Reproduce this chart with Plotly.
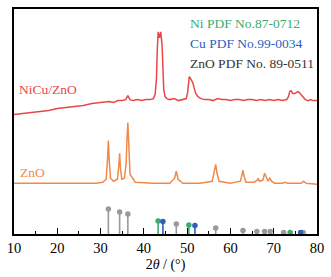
import plotly.graph_objects as go

# NiCu/ZnO pattern (2theta, intensity a.u.)
nicu_x = [10, 12, 14, 16, 18, 20, 22, 24, 26, 28, 30, 31, 32, 33, 34, 35, 35.8, 36.3, 36.8, 37.5, 38.5, 39.5, 40.5, 41.5,
          42.2, 42.6, 42.9, 43.1, 43.3, 43.6, 43.9, 44.2, 44.4, 44.6, 44.9, 45.3, 46, 47, 48, 49, 49.8,
          50.1, 50.3, 50.5, 50.8, 51.1, 51.3, 51.6, 52.0, 52.5, 53.2, 54, 55, 56, 57, 58, 59, 60, 61, 62, 63, 64,
          65, 66, 67, 68, 69, 70, 71, 72, 73, 73.4, 73.7, 74.0, 74.4, 74.8, 75.2, 75.6, 75.9, 76.3, 76.8, 77.3,
          78, 78.5, 79, 79.5, 80]
nicu_y = [120, 121, 122, 123, 124, 126, 127, 128, 129, 131, 132, 132, 133, 132, 134, 134, 135, 139, 135, 134, 135, 134, 135, 135,
          136, 140, 155, 185, 203, 197, 203, 190, 165, 145, 138, 136, 135, 136, 134, 135, 136,
          142, 152, 158, 156, 154, 152, 147, 141, 138, 136, 135, 135, 134, 136, 135, 135, 134, 135, 135, 134, 135,
          135, 134, 135, 134, 135, 134, 135, 134, 135, 138, 143, 144, 141, 141, 142, 143, 142, 140, 137, 135,
          134, 135, 134, 134, 134]

# ZnO pattern
zno_x = [10, 15, 20, 25, 29, 30.5, 31.3, 31.6, 31.8, 32.0, 32.3, 33.0, 33.9, 34.2, 34.4, 34.6, 34.9, 35.5, 35.9, 36.1,
         36.3, 36.5, 36.8, 38, 42, 46, 47.1, 47.5, 47.9, 49, 53, 55.8, 56.3, 56.6, 56.9, 57.4, 60, 62.3, 62.7, 62.9, 63.1, 63.6,
         65.5, 66.2, 66.4, 66.7, 67.5, 67.9, 68.3, 68.7, 69.1, 69.5, 70.2, 72.0, 72.6, 73.2, 76.3, 76.9, 77.5, 80]
zno_y = [51, 51, 51, 51, 51, 52, 55, 75, 94, 74, 56, 53, 55, 68, 81, 66, 55, 56, 70, 95,
         112, 92, 60, 52, 51, 51, 56, 63, 55, 51, 51, 53, 62, 70, 61, 53, 51, 53, 60, 64, 59, 52,
         52, 54, 56, 53, 54, 61, 57, 53, 56, 53, 51, 51, 52, 51, 51, 53, 51, 50]

# Reference sticks
zno_ref_x = [31.8, 34.4, 36.3, 47.5, 56.6, 62.9, 66.1, 67.9, 69.2, 72.3, 76.8]
zno_ref_h = [25, 22, 20, 10, 6, 3.5, 2.5, 2.5, 2.5, 1.5, 1.5]
ni_ref_x = [43.3, 50.4, 73.8]
ni_ref_h = [13, 9, 1.5]
cu_ref_x = [44.4, 51.8, 76.2]
cu_ref_h = [12.5, 8.5, 1.5]

RED = "#e8474a"
ORANGE = "#f08a4b"
GREEN = "#3daa6e"
BLUE = "#2d5fbd"
GREY = "#9a9a9a"
SERIF = "Liberation Serif, Times New Roman, serif"

fig = go.Figure()
fig.add_trace(go.Scatter(x=nicu_x, y=nicu_y, mode="lines", line=dict(color=RED, width=1.5)))
fig.add_trace(go.Scatter(x=zno_x, y=zno_y, mode="lines", line=dict(color=ORANGE, width=1.5)))

def sticks(xs, hs, color):
    lx, ly = [], []
    for x, h in zip(xs, hs):
        lx += [x, x, None]
        ly += [0, h, None]
    fig.add_trace(go.Scatter(x=lx, y=ly, mode="lines", line=dict(color=color, width=1.6)))
    fig.add_trace(go.Scatter(x=xs, y=hs, mode="markers", marker=dict(color=color, size=5.5)))

sticks(zno_ref_x, zno_ref_h, GREY)
sticks(ni_ref_x, ni_ref_h, GREEN)
sticks(cu_ref_x, cu_ref_h, BLUE)

ann = [
    ("Ni PDF No.87-0712", GREEN, 211),
    ("Cu PDF No.99-0034", BLUE, 191),
    ("ZnO PDF No. 89-0511", "#333333", 171),
]
for t, c, y in ann:
    fig.add_annotation(x=50.3, y=y, text=t, showarrow=False, xanchor="left",
                       font=dict(family=SERIF, size=13.5, color=c))
fig.add_annotation(x=10.7, y=145, text="NiCu/ZnO", showarrow=False, xanchor="left",
                   font=dict(family=SERIF, size=13.5, color=RED))
fig.add_annotation(x=10.9, y=62, text="ZnO", showarrow=False, xanchor="left",
                   font=dict(family=SERIF, size=13.5, color=ORANGE))

fig.update_layout(
    width=331, height=277, showlegend=False,
    margin=dict(l=10, r=11, t=7, b=43),
    plot_bgcolor="white", paper_bgcolor="white",
    font=dict(family=SERIF, color="black"),
)
fig.update_xaxes(range=[10, 80], tickvals=[10, 20, 30, 40, 50, 60, 70, 80],
                 ticks="inside", ticklen=6, tickwidth=1.2, tickcolor="black",
                 minor=dict(dtick=5, tick0=0, ticks="inside", ticklen=3, tickcolor="black"),
                 showline=True, linecolor="black", linewidth=1.5, mirror=True,
                 showgrid=False, zeroline=False,
                 tickfont=dict(family=SERIF, size=14.5, color="black"),
                 title=dict(text="2<i>θ</i> / (°)", font=dict(family=SERIF, size=14, color="black"), standoff=4))
fig.update_yaxes(range=[0, 226], showticklabels=False, ticks="", showgrid=False, zeroline=False,
                 showline=True, linecolor="black", linewidth=1.5, mirror=True)

fig.write_html("out.html", config={"displayModeBar": False},
               post_script="document.body.style.margin='0';document.body.style.overflow='hidden';")
